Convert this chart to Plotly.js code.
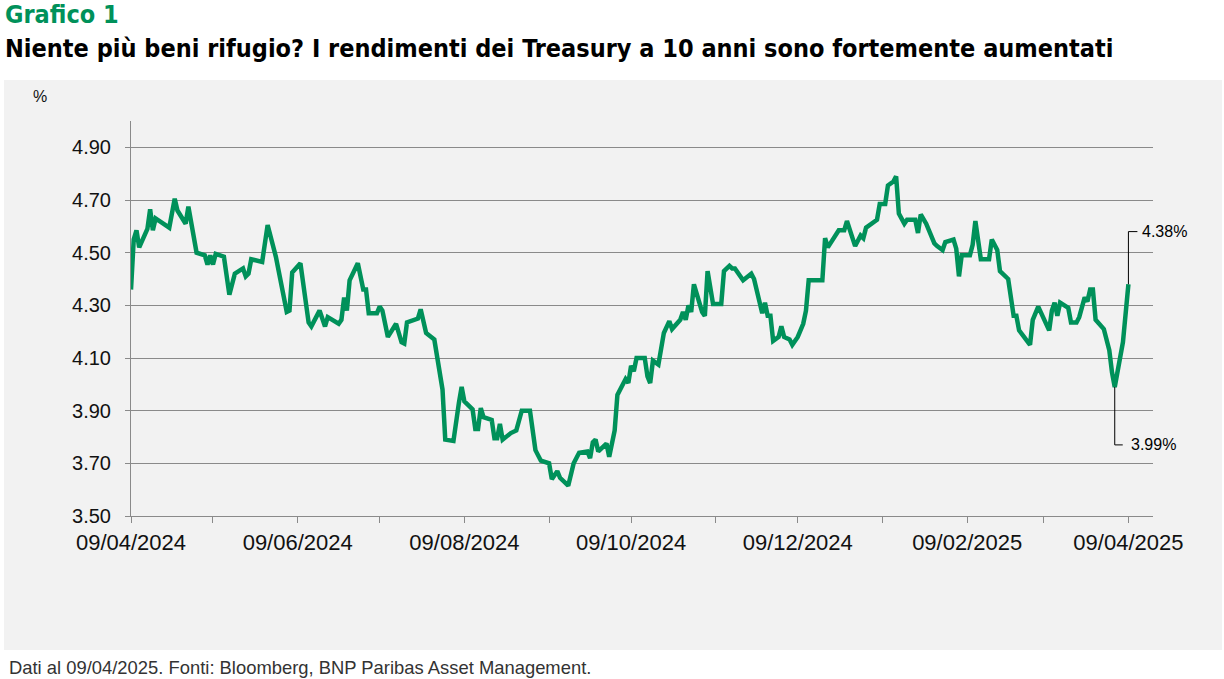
<!DOCTYPE html>
<html>
<head>
<meta charset="utf-8">
<script src="https://cdn.plot.ly/plotly-3.0.1.min.js"></script>
<style>html,body{margin:0;padding:0;background:#fff;}#chart{width:1224px;height:679px;}</style>
</head>
<body>
<div id="chart"></div>
<script>
// ---- data ----
const dates = [
'2024-04-09','2024-04-10','2024-04-11','2024-04-12','2024-04-15','2024-04-16','2024-04-17','2024-04-18','2024-04-23','2024-04-25',
'2024-04-26','2024-04-29','2024-04-30','2024-05-01','2024-05-03','2024-05-06','2024-05-07','2024-05-08','2024-05-09','2024-05-10',
'2024-05-13','2024-05-15','2024-05-17','2024-05-20','2024-05-21','2024-05-22','2024-05-23','2024-05-27','2024-05-29','2024-06-01',
'2024-06-03','2024-06-05','2024-06-06','2024-06-07','2024-06-10','2024-06-13','2024-06-14','2024-06-17','2024-06-19','2024-06-20',
'2024-06-24','2024-06-25','2024-06-26','2024-06-27','2024-06-28','2024-07-01','2024-07-03','2024-07-04','2024-07-05','2024-07-08',
'2024-07-09','2024-07-10','2024-07-12','2024-07-15','2024-07-17','2024-07-18','2024-07-19','2024-07-23','2024-07-24','2024-07-26',
'2024-07-29','2024-07-31','2024-08-01','2024-08-02','2024-08-05','2024-08-07','2024-08-08','2024-08-09','2024-08-12','2024-08-13',
'2024-08-14','2024-08-15','2024-08-16','2024-08-19','2024-08-20','2024-08-21','2024-08-22','2024-08-23','2024-08-26','2024-08-28',
'2024-08-30','2024-09-02','2024-09-04','2024-09-06','2024-09-09','2024-09-10','2024-09-12','2024-09-13','2024-09-16','2024-09-18',
'2024-09-20','2024-09-23','2024-09-24','2024-09-25','2024-09-26','2024-09-27','2024-09-30','2024-10-01','2024-10-03','2024-10-04',
'2024-10-07','2024-10-08','2024-10-09','2024-10-10','2024-10-11','2024-10-14','2024-10-15','2024-10-16','2024-10-17','2024-10-19',
'2024-10-21','2024-10-23','2024-10-24','2024-10-27','2024-10-28','2024-10-29','2024-10-30','2024-10-31','2024-11-01','2024-11-04',
'2024-11-05','2024-11-06','2024-11-08','2024-11-11','2024-11-12','2024-11-14','2024-11-15','2024-11-16','2024-11-19','2024-11-22',
'2024-11-23','2024-11-26','2024-11-27','2024-11-28','2024-11-29','2024-11-30','2024-12-02','2024-12-03','2024-12-04','2024-12-06',
'2024-12-07','2024-12-09','2024-12-11','2024-12-12','2024-12-13','2024-12-18','2024-12-19','2024-12-20','2024-12-24','2024-12-26',
'2024-12-27','2024-12-30','2025-01-01','2025-01-02','2025-01-03','2025-01-07','2025-01-08','2025-01-10','2025-01-11','2025-01-13',
'2025-01-14','2025-01-15','2025-01-17','2025-01-18','2025-01-21','2025-01-22','2025-01-23','2025-01-25','2025-01-28','2025-01-29',
'2025-01-31','2025-02-01','2025-02-04','2025-02-05','2025-02-06','2025-02-07','2025-02-10','2025-02-11','2025-02-12','2025-02-14',
'2025-02-17','2025-02-18','2025-02-20','2025-02-21','2025-02-24','2025-02-26','2025-02-27','2025-02-28','2025-03-04','2025-03-05',
'2025-03-06','2025-03-07','2025-03-11','2025-03-12','2025-03-13','2025-03-14','2025-03-15','2025-03-18','2025-03-19','2025-03-21',
'2025-03-22','2025-03-24','2025-03-25','2025-03-26','2025-03-27','2025-03-28','2025-03-31','2025-04-01','2025-04-02','2025-04-03',
'2025-04-04','2025-04-07','2025-04-08','2025-04-09'
];
const yields = [
4.36,4.55,4.585,4.52,4.59,4.665,4.585,4.63,4.595,4.705,
4.66,4.61,4.675,4.62,4.50,4.49,4.455,4.49,4.455,4.495,
4.485,4.34,4.42,4.44,4.41,4.42,4.475,4.465,4.605,4.485,
4.39,4.275,4.28,4.425,4.46,4.235,4.22,4.28,4.22,4.255,
4.23,4.245,4.33,4.28,4.395,4.46,4.36,4.36,4.27,4.27,
4.295,4.28,4.18,4.23,4.16,4.155,4.235,4.25,4.285,4.195,
4.17,4.03,3.98,3.79,3.785,3.93,3.99,3.935,3.905,3.83,
3.83,3.91,3.875,3.865,3.795,3.795,3.85,3.79,3.815,3.825,
3.90,3.90,3.75,3.71,3.70,3.64,3.67,3.645,3.615,3.70,
3.74,3.745,3.72,3.78,3.79,3.745,3.775,3.725,3.825,3.96,
4.02,4.005,4.07,4.05,4.10,4.10,4.03,4.005,4.09,4.075,
4.195,4.24,4.21,4.245,4.275,4.245,4.30,4.275,4.38,4.275,
4.26,4.43,4.305,4.305,4.43,4.45,4.44,4.44,4.395,4.42,
4.40,4.27,4.31,4.26,4.26,4.165,4.18,4.22,4.18,4.17,
4.15,4.18,4.23,4.28,4.395,4.395,4.555,4.52,4.585,4.585,
4.62,4.525,4.565,4.555,4.595,4.625,4.685,4.685,4.755,4.77,
4.79,4.648,4.61,4.625,4.625,4.575,4.645,4.61,4.535,4.525,
4.51,4.54,4.55,4.515,4.41,4.49,4.49,4.53,4.62,4.475,
4.475,4.55,4.51,4.43,4.40,4.26,4.26,4.205,4.15,4.245,
4.275,4.295,4.205,4.28,4.31,4.26,4.31,4.29,4.235,4.235,
4.255,4.33,4.315,4.36,4.36,4.245,4.21,4.17,4.13,4.045,
3.99,4.16,4.27,4.38
];
const majorTickDates = ['2024-04-09','2024-06-09','2024-08-09','2024-10-09','2024-12-09','2025-02-09','2025-04-09'];
const majorTickLabels = ['09/04/2024','09/06/2024','09/08/2024','09/10/2024','09/12/2024','09/02/2025','09/04/2025'];
const minorTickDates = ['2024-05-09','2024-07-09','2024-09-09','2024-11-09','2025-01-09','2025-03-09'];
const recentLowFrom = '2025-03-01';
const titleLine1 = 'Grafico 1';
const titleLine2 = 'Niente più beni rifugio? I rendimenti dei Treasury a 10 anni sono fortemente aumentati';
const unitLabel = '%';
const footnote = 'Dati al 09/04/2025. Fonti: Bloomberg, BNP Paribas Asset Management.';

// ---- derived points for the labels ----
const lastIdx = yields.length - 1;
let minIdx = -1;
dates.forEach((d, i) => {
  if (d >= recentLowFrom && (minIdx < 0 || yields[i] < yields[minIdx])) minIdx = i;
});

const GREEN = '#00915A';
const GRID = '#8a8a8a';
const W = 1224, H = 679;
const ML = 131, MR = 71, MT = 121, MB = 163;
const PW = W - ML - MR, PH = H - MT - MB;
const px = x => (x - ML) / PW;
const py = y => (H - MB - y) / PH;
const FONT = '"Liberation Sans", Arial, sans-serif';
const TITLE_FONT = '"DejaVu Sans Condensed", "Liberation Sans", Arial, sans-serif';

const trace = {
  type: 'scatter', mode: 'lines',
  x: dates, y: yields,
  line: {color: GREEN, width: 4.5, shape: 'linear'},
  hoverinfo: 'x+y', showlegend: false
};

const labelY = {hi: 4.58, lo: 3.77};
const layout = {
  width: W, height: H,
  margin: {l: ML, r: MR, t: MT, b: MB, pad: 0},
  paper_bgcolor: '#ffffff',
  plot_bgcolor: 'rgba(0,0,0,0)',
  showlegend: false,
  title: {
    text: titleLine2,
    x: 5 / W, xref: 'container', xanchor: 'left',
    y: 1 - 48 / H, yref: 'container', yanchor: 'middle',
    font: {family: TITLE_FONT, size: 25, color: '#000000', weight: 700}
  },
  xaxis: {
    type: 'date',
    range: ['2024-04-09', '2025-04-18'],
    showgrid: false, zeroline: false,
    showline: true, linecolor: GRID, linewidth: 1,
    tickmode: 'array', tickvals: majorTickDates, ticktext: majorTickLabels,
    ticks: 'outside', ticklen: 6, tickcolor: GRID, tickwidth: 1,
    minor: {tickmode: 'array', tickvals: minorTickDates, ticks: 'outside', ticklen: 6, tickcolor: GRID, tickwidth: 1, showgrid: false},
    tickfont: {family: FONT, size: 22, color: '#111111'},
    ticklabelstandoff: 1,
    fixedrange: true
  },
  yaxis: {
    range: [3.5, 5.0],
    tickmode: 'linear', tick0: 3.5, dtick: 0.2, tickformat: '.2f',
    showgrid: true, gridcolor: GRID, gridwidth: 1, zeroline: false,
    showline: true, linecolor: GRID, linewidth: 1,
    ticks: 'outside', ticklen: 5, tickcolor: GRID, tickwidth: 1,
    tickfont: {family: FONT, size: 20, color: '#111111'},
    ticklabelstandoff: 10,
    fixedrange: true
  },
  shapes: [
    {type: 'rect', xref: 'paper', yref: 'paper', layer: 'below',
     x0: px(4), x1: px(1222), y0: py(650), y1: py(80),
     fillcolor: '#f2f2f2', line: {width: 0}},
    // leader for last value
    {type: 'line', xref: 'x', yref: 'y', x0: dates[lastIdx], x1: dates[lastIdx], y0: yields[lastIdx], y1: labelY.hi,
     line: {color: '#000000', width: 1}},
    {type: 'line', xref: 'x', yref: 'y', xsizemode: 'pixel', xanchor: dates[lastIdx], x0: 0, x1: 9, y0: labelY.hi, y1: labelY.hi,
     line: {color: '#000000', width: 1}},
    // leader for the recent low
    {type: 'line', xref: 'x', yref: 'y', x0: dates[minIdx], x1: dates[minIdx], y0: yields[minIdx], y1: labelY.lo,
     line: {color: '#000000', width: 1}},
    {type: 'line', xref: 'x', yref: 'y', xsizemode: 'pixel', xanchor: dates[minIdx], x0: 0, x1: 8, y0: labelY.lo, y1: labelY.lo,
     line: {color: '#000000', width: 1}}
  ],
  annotations: [
    {text: titleLine1, xref: 'paper', yref: 'paper', x: px(3), y: py(15),
     xanchor: 'left', yanchor: 'middle', showarrow: false,
     font: {family: TITLE_FONT, size: 25, color: GREEN, weight: 700}},
    {text: yields[lastIdx].toFixed(2) + '%', xref: 'x', yref: 'y', x: dates[lastIdx], y: labelY.hi,
     xanchor: 'left', yanchor: 'middle', xshift: 12, showarrow: false,
     font: {family: FONT, size: 16, color: '#000000'}},
    {text: yields[minIdx].toFixed(2) + '%', xref: 'x', yref: 'y', x: dates[minIdx], y: labelY.lo,
     xanchor: 'left', yanchor: 'middle', xshift: 14, showarrow: false,
     font: {family: FONT, size: 16, color: '#000000'}},
    {text: unitLabel, xref: 'paper', yref: 'paper', x: px(31), y: py(96),
     xanchor: 'left', yanchor: 'middle', showarrow: false,
     font: {family: FONT, size: 16, color: '#111111'}},
    {text: footnote, xref: 'paper', yref: 'paper', x: px(7), y: py(667),
     xanchor: 'left', yanchor: 'middle', showarrow: false,
     font: {family: FONT, size: 18.4, color: '#333333'}}
  ]
};

Plotly.newPlot('chart', [trace], layout, {displayModeBar: false, staticPlot: true});
</script>
</body>
</html>
